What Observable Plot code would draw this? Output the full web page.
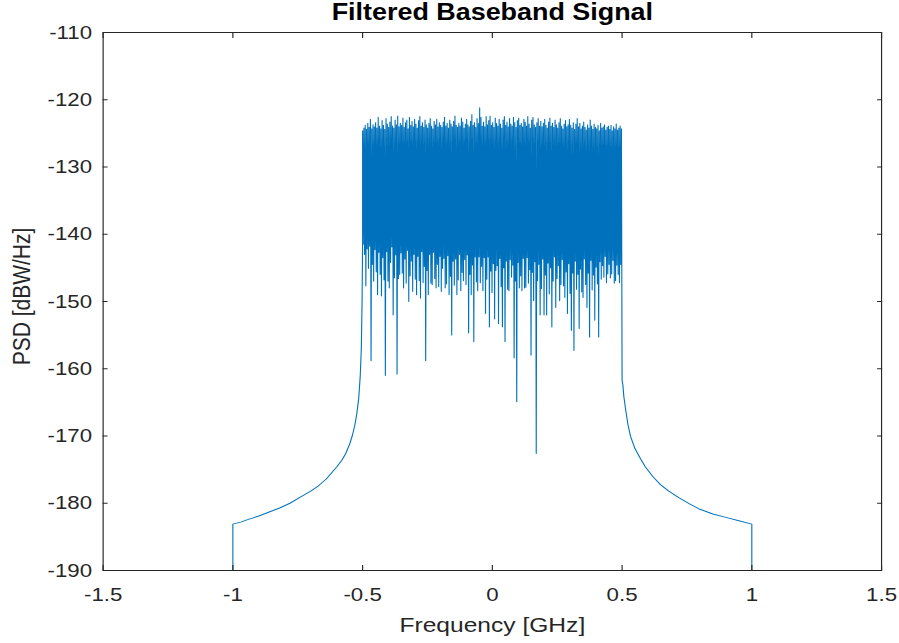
<!DOCTYPE html>
<html>
<head>
<meta charset="utf-8">
<script src="https://cdn.jsdelivr.net/npm/d3@7"></script>
<script src="https://cdn.jsdelivr.net/npm/@observablehq/plot@0.6"></script>
<style>
  html, body { margin: 0; padding: 0; background: #ffffff; }
  #chart svg { display: block; }
</style>
</head>
<body>
<div id="chart"></div>
<script>
// ---- Text ----
const titleText = "Filtered Baseband Signal";
const xLabel = "Frequency [GHz]";
const yLabel = "PSD [dBW/Hz]";

// ---- Tick values ----
const xTicks = [-1.5, -1, -0.5, 0, 0.5, 1, 1.5];
const yTicks = [-190, -180, -170, -160, -150, -140, -130, -120, -110];

// ---- Left filter skirt (GHz, dBW/Hz) ----
const freqLeftSkirt = [-1.0, -1.0, -0.97, -0.94, -0.9, -0.86, -0.82, -0.78, -0.74, -0.7, -0.67, -0.64, -0.62, -0.6, -0.58, -0.565, -0.55, -0.54, -0.53, -0.522, -0.515, -0.509, -0.505, -0.502, -0.5];
const psdLeftSkirt  = [-190, -183.1, -182.8, -182.4, -181.9, -181.3, -180.7, -180.0, -179.1, -178.2, -177.4, -176.4, -175.5, -174.6, -173.6, -172.6, -171.2, -170.0, -168.4, -166.6, -164.4, -161.0, -157.0, -150.0, -141.0];

// ---- In-band noise: band edges and alternating local maxima / minima ----
const bandStart = -0.5;
const bandEnd = 0.5;
const bandTop = [
  -124.6, -124.2, -123.8, -124.4, -123.5, -124.1, -122.9, -124.3, -123.7, -124.0,
  -123.4, -124.2, -122.6, -123.9, -124.3, -123.1, -123.8, -124.4, -122.8, -123.6,
  -124.1, -123.3, -122.5, -123.9, -124.2, -123.0, -123.7, -122.4, -124.0, -123.5,
  -123.8, -122.7, -124.1, -123.4, -123.0, -124.3, -122.6, -123.8, -123.2, -124.0,
  -122.9, -123.6, -124.2, -123.1, -122.5, -123.9, -123.4, -124.1, -123.0, -123.7,
  -124.2, -123.5, -122.8, -123.9, -124.3, -123.2, -123.7, -122.9, -124.0, -123.4,
  -123.8, -124.1, -123.3, -122.6, -123.9, -123.5, -124.2, -123.0, -123.6, -124.0,
  -123.2, -122.4, -123.8, -124.1, -123.5, -123.9, -122.7, -123.3, -124.2, -123.6,
  -122.9, -123.7, -124.0, -123.2, -122.2, -123.8, -123.4, -124.1, -122.8, -123.5,
  -121.2, -122.6, -123.9, -123.3, -124.0, -122.5, -123.7, -123.1, -122.4, -123.8,
  -123.4, -124.1, -122.7, -123.5, -123.9, -122.9, -123.6, -124.2, -123.0, -122.5,
  -123.8, -123.3, -124.0, -122.8, -123.6, -123.9, -122.6, -123.4, -124.1, -123.1,
  -122.7, -123.8, -123.5, -124.0, -122.9, -123.3, -123.9, -122.5, -123.6, -124.2,
  -123.0, -122.6, -123.7, -124.1, -123.4, -122.8, -123.9, -123.2, -124.0, -123.5,
  -122.9, -123.8, -124.2, -123.3, -122.7, -123.9, -123.5, -124.1, -123.0, -123.7,
  -124.2, -123.4, -122.8, -123.9, -124.3, -123.6, -123.1, -124.0, -123.7, -122.9,
  -123.8, -124.2, -123.4, -124.4, -123.6, -122.8, -124.0, -123.5, -124.3, -123.9,
  -123.3, -124.1, -124.5, -123.7, -124.2, -123.0, -123.9, -124.4, -123.6, -124.1,
  -124.3, -123.8, -124.6, -123.5, -124.2, -124.0, -123.7, -124.5, -124.1, -123.9,
  -124.4, -123.8, -124.6, -124.0, -124.3, -123.6, -124.5, -124.2, -123.9, -124.3
];
const bandBottom = [
  -141.5, -143.0, -147.7, -142.2, -145.1, -141.8, -158.8, -144.5, -147.0, -142.3,
  -145.6, -149.0, -142.7, -146.0, -149.2, -143.5, -146.8, -161.0, -142.6, -147.0,
  -148.0, -144.2, -141.9, -152.0, -146.5, -143.1, -160.8, -146.6, -146.0, -142.8,
  -145.8, -148.0, -143.7, -147.3, -142.4, -150.0, -146.2, -144.0, -148.5, -143.0,
  -146.7, -149.0, -143.3, -146.9, -149.5, -142.6, -147.2, -144.8, -158.8, -145.4,
  -149.0, -143.0, -147.3, -147.5, -142.7, -146.6, -148.0, -144.5, -147.8, -143.3,
  -148.5, -145.1, -143.6, -148.0, -147.4, -143.2, -149.0, -146.3, -155.0, -144.0,
  -147.6, -143.7, -149.0, -146.8, -143.0, -148.4, -145.7, -146.9, -143.8, -147.5,
  -143.1, -154.7, -146.0, -149.0, -144.6, -156.0, -143.4, -147.1, -148.4, -143.4,
  -147.2, -144.8, -148.4, -143.5, -151.8, -146.7, -143.4, -153.8, -145.5, -148.7,
  -144.4, -152.6, -145.4, -144.7, -153.3, -143.6, -147.8, -153.8, -145.0, -156.0,
  -144.0, -148.2, -148.4, -143.8, -146.4, -144.6, -158.4, -147.0, -164.9, -144.2,
  -148.0, -146.2, -148.4, -143.6, -148.0, -147.9, -143.5, -147.3, -145.3, -158.0,
  -145.7, -149.9, -144.1, -172.6, -146.9, -144.5, -152.0, -148.1, -143.7, -152.0,
  -146.1, -152.0, -144.3, -148.9, -145.0, -153.8, -147.0, -143.4, -150.9, -146.6,
  -144.7, -149.9, -147.5, -143.8, -147.7, -149.4, -145.6, -151.8, -144.4, -148.8,
  -154.3, -145.8, -157.3, -144.0, -148.2, -146.0, -154.0, -145.2, -148.6, -149.4,
  -143.7, -147.5, -150.9, -145.8, -155.3, -143.9, -148.3, -146.1, -152.8, -144.9,
  -147.4, -155.3, -144.1, -146.7, -144.7, -146.4, -143.3, -147.2, -145.9, -144.5,
  -146.5, -145.9, -143.9, -147.3, -146.9, -144.6, -146.0, -147.2, -144.5, -161.7
];

// ---- Right filter skirt (GHz, dBW/Hz) ----
const freqRightSkirt = [0.503, 0.507, 0.515, 0.523, 0.533, 0.55, 0.57, 0.59, 0.62, 0.65, 0.68, 0.72, 0.76, 0.8, 0.85, 0.9, 0.95, 1.0, 1.0];
const psdRightSkirt  = [-162.4, -164.2, -166.4, -168.4, -170.1, -171.9, -173.3, -174.6, -176.1, -177.3, -178.2, -179.2, -180.1, -180.9, -181.6, -182.1, -182.6, -183.1, -190];

// ---- Build the single PSD trace ----
const rows = [];
freqLeftSkirt.forEach((f, i) => rows.push({f, psd: psdLeftSkirt[i]}));
const nBand = bandTop.length;
const nPts = 2 * nBand;
for (let i = 0; i < nBand; i++) {
  rows.push({f: bandStart + (2 * i) * (bandEnd - bandStart) / (nPts - 1), psd: bandTop[i]});
  rows.push({f: bandStart + (2 * i + 1) * (bandEnd - bandStart) / (nPts - 1), psd: bandBottom[i]});
}
freqRightSkirt.forEach((f, i) => rows.push({f, psd: psdRightSkirt[i]}));

// ---- Layout (drawn narrower, then stretched horizontally like the reference) ----
const outW = 899, H = 643;
const W = 768;
const axisColor = "#262626";
const lineColor = "#0072BD";
const fontFamily = "'Liberation Sans', Arial, Helvetica, sans-serif";
const fmt = d => String(d);
const hTick = 4.3; // horizontal tick length (pre-stretch)

const chart = Plot.plot({
  width: W,
  height: H,
  marginLeft: 87.6,
  marginRight: 15.4,
  marginTop: 32,
  marginBottom: 73,
  style: {fontFamily, color: axisColor, background: "#ffffff", overflow: "visible"},
  x: {domain: [-1.5, 1.5], label: null},
  y: {domain: [-190, -110], label: null},
  marks: [
    Plot.line(rows, {x: "f", y: "psd", stroke: lineColor, strokeWidth: 0.95, clip: true}),
    Plot.frame({stroke: axisColor, strokeWidth: 1}),
    // inward ticks on all four sides
    Plot.axisX(xTicks, {anchor: "bottom", tickSize: -5, tickFormat: () => "", label: null}),
    Plot.axisX(xTicks, {anchor: "top", tickSize: -5, tickFormat: () => "", label: null}),
    Plot.axisY(yTicks, {anchor: "left", tickSize: -hTick, tickFormat: () => "", label: null}),
    Plot.axisY(yTicks, {anchor: "right", tickSize: -hTick, tickFormat: () => "", label: null}),
    // tick labels
    Plot.axisX(xTicks, {anchor: "bottom", tickSize: 0, tickPadding: 17, tickFormat: fmt, fontSize: 19, label: null}),
    Plot.axisY(yTicks, {anchor: "left", tickSize: 0, tickPadding: 9.5, tickFormat: fmt, fontSize: 19, label: null}),
    // title and axis labels
    Plot.text([titleText], {text: d => d, frameAnchor: "top", lineAnchor: "middle", dy: -19.6, fontSize: 23, fontWeight: "bold", fill: "#000000"}),
    Plot.text([xLabel], {text: d => d, frameAnchor: "bottom", lineAnchor: "middle", dy: 54.5, fontSize: 21, fill: axisColor}),
    Plot.text([yLabel], {text: d => d, frameAnchor: "left", textAnchor: "middle", lineAnchor: "middle", dx: -69.1, dy: -5, rotate: -90, fontSize: 21, fill: axisColor})
  ]
});

chart.setAttribute("width", outW);
chart.setAttribute("height", H);
chart.setAttribute("preserveAspectRatio", "none");
chart.style.width = outW + "px";
chart.style.height = H + "px";
chart.style.maxWidth = "none";
document.getElementById("chart").appendChild(chart);
</script>
</body>
</html>
